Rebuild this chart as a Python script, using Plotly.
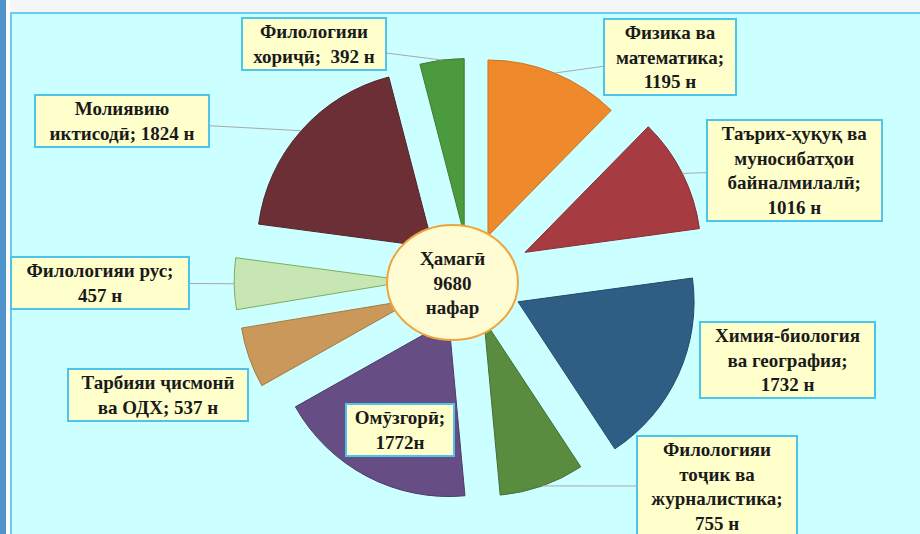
import math
import plotly.graph_objects as go

W, H = 920, 534

# slices, clockwise from 12 o'clock
names = [
    "Физика ва<br>математика",
    "Таърих-ҳуқуқ ва<br>муносибатҳои<br>байналмилалӣ",
    "Химия-биология<br>ва география",
    "Филологияи<br>тоҷик ва<br>журналистика",
    "Омӯзгорӣ",
    "Тарбияи ҷисмонӣ<br>ва ОДХ",
    "Филологияи рус",
    "Молиявию<br>иктисодӣ",
    "Филологияи<br>хориҷӣ",
]
values = [1195, 1016, 1732, 755, 1772, 537, 457, 1824, 392]
seps = ["<br>", "<br>", "<br>", "<br>", "<br>", " ", "<br>", " ", "  "]
units = [" н", " н", " н", " н", "н", " н", " н", " н", " н"]
total_text = "Ҳамагӣ<br>9680<br>нафар"

colors = ["#EE8A2C", "#A63B42", "#2F5E85", "#5A8C40", "#664D84",
          "#C9985A", "#C8E6B4", "#6B2F35", "#4C9A3E"]
edge_colors = ["#D0731A", "#8A2B31", "#244A6A", "#476F31", "#4F3B68",
               "#A67A40", "#78B05A", "#52232A", "#3A7D2F"]
pulls = [0.27, 0.35, 0.30, 0.24, 0.26, 0.33, 0.34, 0.28, 0.26]

# pie geometry in pixels (margins are zero, so paper == page)
CX, CY, R = 470, 280, 176
half = R * (1 + max(pulls))
dom_x = [(CX - half) / W, (CX + half) / W]
dom_y = [1 - (CY + half) / H, 1 - (CY - half) / H]

fig = go.Figure(go.Pie(
    labels=[n.replace("<br>", " ") for n in names],
    values=values,
    sort=False,
    direction="clockwise",
    rotation=0,
    pull=pulls,
    textinfo="none",
    hoverinfo="label+value",
    marker=dict(colors=colors, line=dict(color=edge_colors, width=1)),
    domain=dict(x=dom_x, y=dom_y),
))

# label boxes: centre (px), width (px), leader line?
boxes = [
    (670, 57, 134, True),
    (794, 170, 177, True),
    (787, 360, 177, False),
    (717, 486, 162, True),
    (400, 430, 110, False),
    (158, 395, 182, False),
    (100, 283, 180, True),
    (122, 121, 176, True),
    (314, 44, 146, True),
]

total = sum(values)
cum = 0
for i, v in enumerate(values):
    mid = (cum + v / 2) / total * 2 * math.pi
    cum += v
    d = R * (1 + pulls[i])
    tx = CX + d * math.sin(mid)
    ty = CY - d * math.cos(mid)
    bx, by, bw, leader = boxes[i]
    text = f"<b>{names[i]};{seps[i]}{v}{units[i]}</b>"
    common = dict(
        text=text, xref="paper", yref="paper",
        xanchor="center", yanchor="middle",
        font=dict(family="Liberation Serif", size=19, color="#1A1A1A"),
        bgcolor="#FFFFCC", bordercolor="#4CC4EC", borderwidth=2, borderpad=2,
        width=bw - 8, align="center",
    )
    if leader:
        fig.add_annotation(
            x=tx / W, y=1 - ty / H, ax=bx - tx, ay=by - ty,
            showarrow=True, arrowhead=0, arrowwidth=1, arrowcolor="#A8A8A8",
            **common,
        )
    else:
        fig.add_annotation(x=bx / W, y=1 - by / H, showarrow=False, **common)

# centre ellipse with the total
fig.add_shape(type="circle", xref="paper", yref="paper",
              x0=387 / W, x1=518 / W, y0=1 - 340 / H, y1=1 - 225 / H,
              fillcolor="#FFFBD2", line=dict(color="#F0A53C", width=2))
fig.add_annotation(x=452 / W, y=1 - 283 / H, xref="paper", yref="paper",
                   xanchor="center", yanchor="middle",
                   text=f"<b>{total_text}</b>", showarrow=False,
                   font=dict(family="Liberation Serif", size=19, color="#1A1A1A"))

# page frame: grey strip on top, blue strip on the left, cyan border
fig.add_shape(type="rect", xref="paper", yref="paper", layer="below",
              x0=0, x1=1, y0=1 - 12 / H, y1=1, fillcolor="#F6F6F6", line_width=0)
fig.add_shape(type="rect", xref="paper", yref="paper", layer="below",
              x0=0, x1=10 / W, y0=0, y1=1, fillcolor="#FFFFFF", line_width=0)
fig.add_shape(type="rect", xref="paper", yref="paper", layer="below",
              x0=0, x1=6 / W, y0=0, y1=1, fillcolor="#4F95CC", line_width=0)
fig.add_shape(type="rect", xref="paper", yref="paper", layer="below",
              x0=11 / W, x1=1.01, y0=-0.01, y1=1 - 13 / H,
              fillcolor="rgba(0,0,0,0)", line=dict(color="#6ACCF0", width=2))

fig.update_layout(
    width=W, height=H,
    margin=dict(l=0, r=0, t=0, b=0),
    paper_bgcolor="#CCFFFF",
    plot_bgcolor="#CCFFFF",
    showlegend=False,
)

# drop the default 8px page margin so the figure fills the window
fig.write_html("out.html", config={"displayModeBar": False},
               post_script="document.body.style.margin='0';")
